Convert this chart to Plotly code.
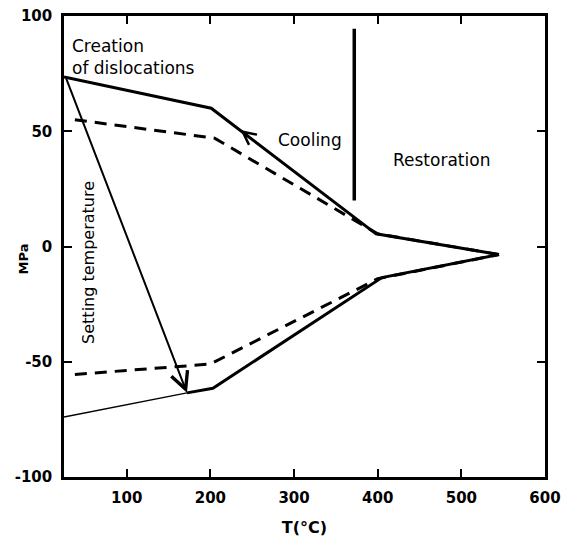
import plotly.graph_objects as go

# ---- data (T in °C, stress in MPa) ----
upper_solid_T = [25, 201, 398, 545]
upper_solid_S = [73.5, 60, 5.5, -3.5]

upper_dash_T = [38, 205, 400, 545]
upper_dash_S = [55, 47, 5.5, -3.5]

lower_solid_T = [172, 203, 405, 545]
lower_solid_S = [-63.5, -61.5, -13.5, -3.5]

lower_thin_T = [25, 172]
lower_thin_S = [-74, -63.5]

lower_dash_T = [38, 200, 400, 545]
lower_dash_S = [-55.5, -51, -14, -3.5]

restoration_line_T = [372, 372]
restoration_line_S = [94.5, 20]

setting_arrow_from = (27, 73.5)
setting_arrow_to = (172, -63.5)
cooling_arrow_from = (268, 41.5)
cooling_arrow_to = (236, 50.5)

x_ticks = [100, 200, 300, 400, 500, 600]
x_tick_text = ["100", "200", "300", "400", "500", "600"]
y_ticks = [-100, -50, 0, 50, 100]
y_tick_text = ["-100", "-50", "0", "50", "100"]

labels = {
    "creation": ("Creation<br>of dislocations", 32, 82),
    "cooling": ("Cooling", 319, 46),
    "restoration": ("Restoration", 476, 37.5),
    "setting": ("Setting temperature", 54, -7),
}

FONT = "DejaVu Sans"

fig = go.Figure()
fig.add_trace(go.Scatter(x=upper_solid_T, y=upper_solid_S, mode="lines",
                         line=dict(color="black", width=3)))
fig.add_trace(go.Scatter(x=upper_dash_T, y=upper_dash_S, mode="lines",
                         line=dict(color="black", width=3, dash="12px,8px")))
fig.add_trace(go.Scatter(x=lower_solid_T, y=lower_solid_S, mode="lines",
                         line=dict(color="black", width=3)))
fig.add_trace(go.Scatter(x=lower_thin_T, y=lower_thin_S, mode="lines",
                         line=dict(color="black", width=1.5)))
fig.add_trace(go.Scatter(x=lower_dash_T, y=lower_dash_S, mode="lines",
                         line=dict(color="black", width=3, dash="12px,8px")))
fig.add_trace(go.Scatter(x=restoration_line_T, y=restoration_line_S, mode="lines",
                         line=dict(color="black", width=3.5)))

# arrows
for (x0, y0), (x1, y1), w in [(setting_arrow_from, setting_arrow_to, 2),
                               (cooling_arrow_from, cooling_arrow_to, 1.5)]:
    fig.add_annotation(x=x1, y=y1, ax=x0, ay=y0, xref="x", yref="y",
                       axref="x", ayref="y", text="", showarrow=True,
                       arrowhead=5, arrowsize=1.7, arrowwidth=w,
                       arrowcolor="black")

# text labels
t, x, y = labels["creation"]
fig.add_annotation(x=x, y=y, text=t, showarrow=False, xanchor="left",
                   yanchor="middle", align="left",
                   font=dict(family=FONT, size=17, color="black"))
for key in ["cooling", "restoration"]:
    t, x, y = labels[key]
    fig.add_annotation(x=x, y=y, text=t, showarrow=False,
                       font=dict(family=FONT, size=17, color="black"))
t, x, y = labels["setting"]
fig.add_annotation(x=x, y=y, text=t, showarrow=False, textangle=-90,
                   font=dict(family=FONT, size=16, color="black"))

# y-axis title placed precisely
fig.add_annotation(x=-0.102, y=0.473, xref="paper", yref="paper", text="MPa",
                   showarrow=False, textangle=-90,
                   font=dict(family=FONT, size=13, color="black", weight="bold"))

axis_common = dict(showgrid=False, zeroline=False, showline=True,
                   linecolor="black", linewidth=2.5, mirror="ticks",
                   ticks="inside", ticklen=8, tickwidth=2, tickcolor="black",
                   automargin=False,
                   tickfont=dict(family=FONT, size=15, color="black", weight="bold"))

fig.update_xaxes(range=[25, 600], tickvals=x_ticks, ticktext=x_tick_text,
                 ticklabelstandoff=5,
                 title=dict(text="T(°C)", standoff=17,
                            font=dict(family=FONT, size=16, color="black", weight="bold")),
                 **axis_common)
fig.update_yaxes(range=[-100, 100], tickvals=y_ticks, ticktext=y_tick_text,
                 ticklabelstandoff=6, **axis_common)

fig.update_layout(width=561, height=542, autosize=False,
                  margin=dict(l=64, r=16, t=16, b=65),
                  plot_bgcolor="white", paper_bgcolor="white",
                  showlegend=False)

fig.write_html("out.html")
